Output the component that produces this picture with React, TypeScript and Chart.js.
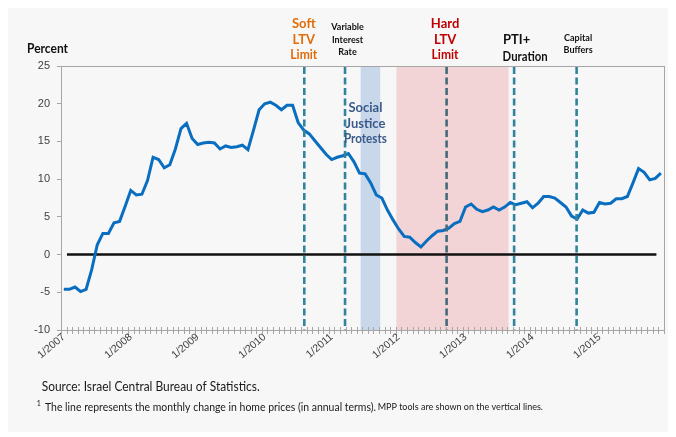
import React, { useEffect, useRef } from 'react';
import { Chart, registerables } from 'chart.js';

Chart.register(...registerables);

// ---------- data ----------
const years = [2007, 2008, 2009, 2010, 2011, 2012, 2013, 2014, 2015];
const months = [1, 2, 3, 4, 5, 6, 7, 8, 9, 10, 11, 12];
const categories: string[] = [];
for (const yr of years) for (const m of months) categories.push(`${m}/${yr}`);

// monthly change in home prices, annualised (%)
const priceChange = [
  -4.6, -4.6, -4.3, -4.9, -4.6, -2.0, 1.3, 2.8, 2.8, 4.2,
  4.4, 6.4, 8.5, 7.9, 8.0, 9.8, 12.9, 12.6, 11.5, 11.9,
  14.0, 16.7, 17.4, 15.4, 14.6, 14.8, 14.9, 14.8, 14.0, 14.4,
  14.2, 14.3, 14.5, 13.9, 16.5, 19.2, 20.0, 20.2, 19.8, 19.2,
  19.8, 19.8, 17.5, 16.5, 16.0, 15.1, 14.2, 13.3, 12.6, 12.9,
  13.1, 13.4, 12.3, 10.8, 10.7, 9.5, 7.9, 7.5, 5.9, 4.6,
  3.4, 2.4, 2.3, 1.6, 1.0, 1.8, 2.5, 3.1, 3.2, 3.5,
  4.1, 4.4, 6.3, 6.7, 6.0, 5.7, 5.9, 6.3, 5.9, 6.3,
  6.9, 6.6, 6.8, 7.0, 6.2, 6.8, 7.7, 7.7, 7.5, 6.9,
  6.3, 5.1, 4.7, 5.9, 5.5, 5.6, 6.9, 6.7, 6.8, 7.4,
  7.4, 7.7, 9.5, 11.4, 10.9, 9.9, 10.1, 10.8,
];

const yMin = -10;
const yMax = 25;
const yStep = 5;

// policy events (position in months from 1/2007)
const eventPositions = [43.1, 50.4, 68.6, 80.7, 91.9];
const eventLineColors = ['#31849b', '#31849b', '#436b7c', '#31849b', '#31849b'];
const eventLabels = [
  ['Soft', 'LTV', 'Limit'],
  ['Variable', 'Interest', 'Rate'],
  ['Hard', 'LTV', 'Limit'],
  ['PTI+', 'Duration'],
  ['Capital', 'Buffers'],
];

// shaded periods
const bandStarts = [53.2, 59.6];
const bandEnds = [56.7, 79.7];
const bandColors = ['#c9d7ea', '#f3d4d6'];
const bandLabel = ['Social', 'Justice', 'Protests'];

const zeroLineFrom = 0.57;
const zeroLineTo = 106.2;

const yAxisTitle = 'Percent';
const sourceText = 'Source: Israel Central Bureau of Statistics.';
const noteMain = 'The line represents the monthly change in home prices (in annual terms).';
const noteTail = 'MPP tools are shown on the vertical lines.';

const ANNO_FONT = "Lato, 'Open Sans', sans-serif";

function txt(
  ctx: CanvasRenderingContext2D,
  s: string,
  x: number,
  y: number,
  font: string,
  color: string,
  align: CanvasTextAlign,
  maxW?: number
) {
  ctx.font = font;
  ctx.fillStyle = color;
  ctx.textAlign = align;
  ctx.textBaseline = 'middle';
  if (maxW) ctx.fillText(s, x, y, maxW);
  else ctx.fillText(s, x, y);
}

const overlayPlugin = {
  id: 'overlay',
  beforeDatasetsDraw(chart: any) {
    const { ctx, chartArea: a, scales } = chart;
    const x = scales.x;
    const y = scales.y;
    ctx.save();
    for (let i = 0; i < bandStarts.length; i++) {
      const x0 = x.getPixelForValue(bandStarts[i]);
      const x1 = x.getPixelForValue(bandEnds[i]);
      ctx.fillStyle = bandColors[i];
      ctx.fillRect(x0, a.top + 1, x1 - x0, a.bottom - a.top - 1);
    }
    // zero line
    const y0 = y.getPixelForValue(0);
    ctx.strokeStyle = '#111111';
    ctx.lineWidth = 2.6;
    ctx.beginPath();
    ctx.moveTo(x.getPixelForValue(zeroLineFrom), y0);
    ctx.lineTo(x.getPixelForValue(zeroLineTo), y0);
    ctx.stroke();
    ctx.restore();
  },
  afterDatasetsDraw(chart: any) {
    const { ctx, chartArea: a, scales } = chart;
    const x = scales.x;
    ctx.save();
    ctx.lineWidth = 2.6;
    ctx.setLineDash([7, 3.5]);
    for (let i = 0; i < eventPositions.length; i++) {
      const px = x.getPixelForValue(eventPositions[i]);
      ctx.strokeStyle = eventLineColors[i];
      ctx.beginPath();
      ctx.moveTo(px, a.top + 1);
      ctx.lineTo(px, a.bottom + 1);
      ctx.stroke();
    }
    ctx.restore();
  },
  afterDraw(chart: any) {
    const { ctx, chartArea: a, scales } = chart;
    const x = scales.x;
    ctx.save();
    // plot border
    ctx.strokeStyle = '#a6a6a6';
    ctx.lineWidth = 1;
    ctx.strokeRect(Math.round(a.left) + 0.5, Math.round(a.top) + 0.5, Math.round(a.right - a.left), Math.round(a.bottom - a.top));
    // x cross ticks at category boundaries
    ctx.strokeStyle = '#a6a6a6';
    for (let i = 0; i <= categories.length; i++) {
      const px = Math.round(x.getPixelForValue(i - 0.5)) + 0.5;
      ctx.beginPath();
      ctx.moveTo(px, a.bottom - 3);
      ctx.lineTo(px, a.bottom + 4);
      ctx.stroke();
    }

    // axis title
    txt(ctx, yAxisTitle, 19, 41, `bold 13px ${ANNO_FONT}`, '#111111', 'left', 41);

    // event labels
    const big = `bold 13px ${ANNO_FONT}`;
    const small = `bold 9px ${ANNO_FONT}`;
    // Soft LTV Limit
    const softX = x.getPixelForValue(eventPositions[0]) - 0.5;
    txt(ctx, eventLabels[0][0], softX, 16, big, '#e36c0a', 'center');
    txt(ctx, eventLabels[0][1], softX, 32, big, '#e36c0a', 'center');
    txt(ctx, eventLabels[0][2], softX, 47, big, '#e36c0a', 'center', 27);
    // Variable Interest Rate
    const varX = x.getPixelForValue(eventPositions[1]) + 2.5;
    txt(ctx, eventLabels[1][0], varX, 18.7, small, '#111111', 'center', 35);
    txt(ctx, eventLabels[1][1], varX, 32, small, '#111111', 'center', 33);
    txt(ctx, eventLabels[1][2], varX, 43.7, small, '#111111', 'center');
    // Hard LTV Limit
    const hardX = x.getPixelForValue(eventPositions[2]) - 1.5;
    txt(ctx, eventLabels[2][0], hardX, 16, big, '#c00000', 'center');
    txt(ctx, eventLabels[2][1], hardX, 32, big, '#c00000', 'center');
    txt(ctx, eventLabels[2][2], hardX, 47, big, '#c00000', 'center', 27);
    // PTI+ Duration
    const ptiX = x.getPixelForValue(eventPositions[3]);
    txt(ctx, eventLabels[3][0], ptiX + 2.5, 32, big, '#111111', 'center');
    txt(ctx, eventLabels[3][1], ptiX + 11, 49.3, big, '#111111', 'center', 45);
    // Capital Buffers
    const capX = x.getPixelForValue(eventPositions[4]) + 1.5;
    txt(ctx, eventLabels[4][0], capX, 29.7, small, '#111111', 'center', 30);
    txt(ctx, eventLabels[4][1], capX, 42, small, '#111111', 'center', 30);

    // band label
    const bandX = (x.getPixelForValue(bandStarts[0]) + x.getPixelForValue(bandEnds[0])) / 2 - 5;
    txt(ctx, bandLabel[0], bandX, 100.3, big, '#3b5a8c', 'center');
    txt(ctx, bandLabel[1], bandX, 116, big, '#3b5a8c', 'center');
    txt(ctx, bandLabel[2], bandX, 131.3, big, '#3b5a8c', 'center', 43);

    // footer
    txt(ctx, sourceText, 33.7, 378.7, `12.5px ${ANNO_FONT}`, '#1a1a1a', 'left', 218);
    txt(ctx, '1', 28.7, 396, `7px ${ANNO_FONT}`, '#1a1a1a', 'left');
    txt(ctx, noteMain, 37, 399, `11px ${ANNO_FONT}`, '#1a1a1a', 'left', 331);
    txt(ctx, noteTail, 369.7, 399.5, `9px ${ANNO_FONT}`, '#1a1a1a', 'left', 172);
    ctx.restore();
  },
};

export default function App() {
  const ref = useRef<HTMLCanvasElement | null>(null);

  useEffect(() => {
    if (!ref.current) return;
    const chart = new Chart(ref.current, {
      type: 'line',
      data: {
        labels: categories,
        datasets: [
          {
            label: 'Home price change',
            data: priceChange,
            borderColor: '#0a6ec0',
            borderWidth: 3,
            pointRadius: 0,
            tension: 0,
            fill: false,
          },
        ],
      },
      options: {
        responsive: false,
        animation: false,
        devicePixelRatio: 1,
        layout: { padding: { left: 0, right: 5, top: 58, bottom: 0 } },
        plugins: {
          legend: { display: false },
          tooltip: { enabled: false },
        },
        scales: {
          x: {
            type: 'category',
            offset: true,
            grid: { display: false, drawTicks: false },
            border: { display: false },
            ticks: {
              autoSkip: false,
              maxRotation: 40,
              minRotation: 40,
              padding: 1,
              color: '#404040',
              font: { family: "'Liberation Sans', Arial, sans-serif", size: 10.5 },
              callback: (_v: any, i: number) => (categories[i].startsWith('1/') ? categories[i] : ''),
            },
            afterFit: (s: any) => {
              s.height = 102;
            },
          },
          y: {
            min: yMin,
            max: yMax,
            grid: {
              drawOnChartArea: false,
              drawTicks: true,
              tickLength: 4,
              color: '#a6a6a6',
            },
            border: { display: false },
            ticks: {
              stepSize: yStep,
              padding: 7,
              color: '#404040',
              font: { family: "'Liberation Sans', Arial, sans-serif", size: 11 },
            },
            afterFit: (s: any) => {
              s.width = 53;
            },
          },
        },
      },
      plugins: [overlayPlugin],
    });
    return () => chart.destroy();
  }, []);

  return (
    <div style={{ width: 662, height: 424, background: '#f7f7f7' }}>
      <canvas ref={ref} width={662} height={424} style={{ display: 'block', width: 662, height: 424 }} />
    </div>
  );
}
